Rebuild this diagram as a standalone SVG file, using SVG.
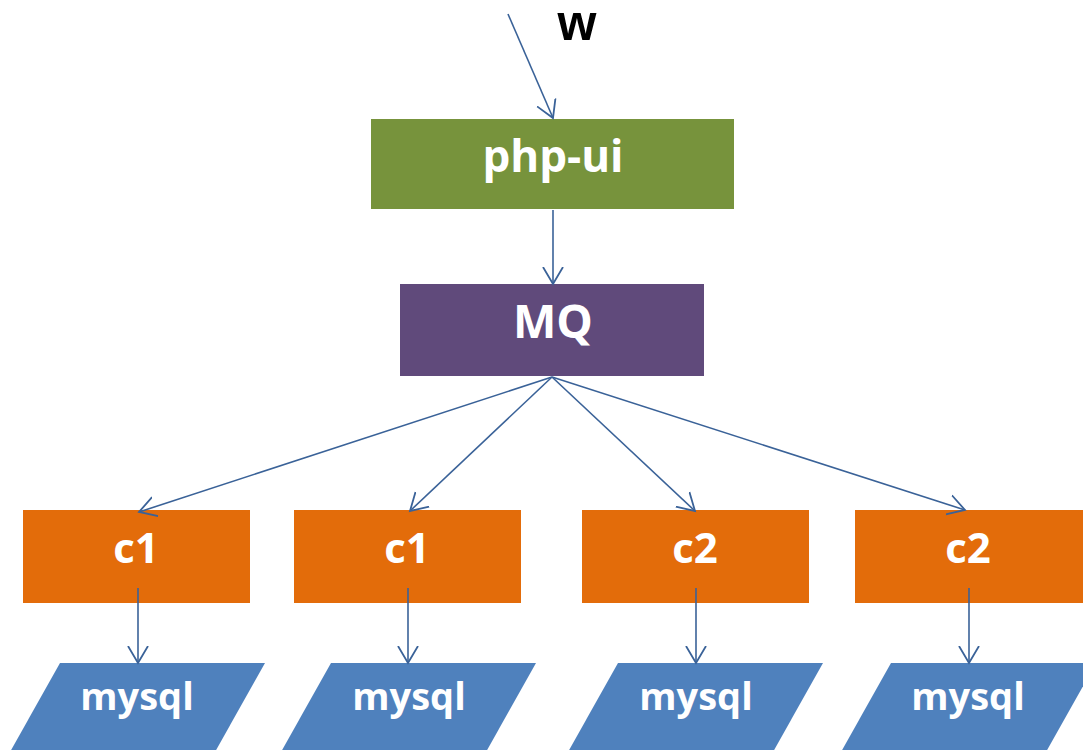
<svg xmlns="http://www.w3.org/2000/svg" width="1083" height="750" viewBox="0 0 1083 750">
<style>
.lbl{font-family:"Open Sans","Noto Sans","Liberation Sans",sans-serif;font-weight:bold;fill:#fff;text-anchor:middle}
.conn{stroke:#3A6298;stroke-width:1.6;fill:none;marker-end:url(#ah)}
.c{fill:#E36C0A}
.db{fill:#4F81BD}
</style>
<defs>
<marker id="ah" markerUnits="userSpaceOnUse" markerWidth="22" markerHeight="24" refX="17" refY="11" orient="auto" viewBox="0 0 22 22">
<path d="M0,1 L17,11 L0,21" fill="none" stroke="#3A6298" stroke-width="1.8"/>
</marker>
</defs>
<rect width="1083" height="750" fill="#fff"/>
<text x="577" y="40" font-family="Liberation Sans, Arial, sans-serif" font-weight="bold" font-size="50" text-anchor="middle" fill="#000">w</text>
<g id="php-ui"><rect x="371" y="119" width="363" height="90" fill="#77933C"/><text class="lbl" x="553" y="172" font-size="44">php-ui</text></g>
<g id="mq"><rect x="400" y="284" width="304" height="92" fill="#604A7B"/><text class="lbl" x="553" y="338" font-size="46">MQ</text></g>
<g id="c1a"><rect class="c" x="23" y="510" width="227" height="93"/><text class="lbl" x="136" y="563" font-size="42">c1</text></g>
<g id="c1b"><rect class="c" x="294" y="510" width="227" height="93"/><text class="lbl" x="407" y="563" font-size="42">c1</text></g>
<g id="c2a"><rect class="c" x="582" y="510" width="227" height="93"/><text class="lbl" x="695" y="563" font-size="42">c2</text></g>
<g id="c2b"><rect class="c" x="855" y="510" width="228" height="93"/><text class="lbl" x="968" y="563" font-size="42">c2</text></g>
<g id="mysql1"><polygon class="db" points="60,663 265,663 215,752 10,752"/><text class="lbl" x="137" y="710" font-size="38">mysql</text></g>
<g id="mysql2"><polygon class="db" points="331,663 536,663 486,752 281,752"/><text class="lbl" x="409" y="710" font-size="38">mysql</text></g>
<g id="mysql3"><polygon class="db" points="618,663 823,663 773,752 568,752"/><text class="lbl" x="696" y="710" font-size="38">mysql</text></g>
<g id="mysql4"><polygon class="db" points="891,663 1096,663 1046,752 841,752"/><text class="lbl" x="968" y="710" font-size="38">mysql</text></g>
<g id="connectors">
<line class="conn" x1="508" y1="14" x2="553" y2="118"/>
<line class="conn" x1="553" y1="210" x2="553" y2="284"/>
<line class="conn" x1="552" y1="377" x2="139" y2="512"/>
<line class="conn" x1="552" y1="377" x2="410" y2="511"/>
<line class="conn" x1="552" y1="377" x2="695" y2="511"/>
<line class="conn" x1="552" y1="377" x2="965" y2="510"/>
<line class="conn" x1="138" y1="588" x2="138" y2="663"/>
<line class="conn" x1="408" y1="588" x2="408" y2="663"/>
<line class="conn" x1="696" y1="588" x2="696" y2="663"/>
<line class="conn" x1="969" y1="588" x2="969" y2="663"/>
</g>
</svg>
